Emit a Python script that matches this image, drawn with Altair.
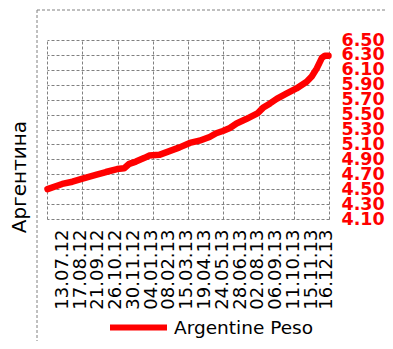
import altair as alt
import pandas as pd

# ---- data ----
dates = ["2012-06-14", "2012-07-13", "2012-08-02", "2012-08-22", "2012-09-17", "2012-10-07",
         "2012-10-29", "2012-11-12", "2012-11-22", "2012-12-05", "2012-12-22", "2012-12-31",
         "2013-01-20", "2013-02-09", "2013-03-01", "2013-03-21", "2013-04-09", "2013-04-29",
         "2013-05-12", "2013-05-25", "2013-06-08", "2013-06-21", "2013-07-10", "2013-08-02",
         "2013-08-12", "2013-08-26", "2013-09-08", "2013-09-27", "2013-10-17", "2013-11-06",
         "2013-11-16", "2013-11-26", "2013-12-06", "2013-12-12", "2013-12-19"]
values = [4.50, 4.57, 4.60, 4.64, 4.69, 4.73, 4.77, 4.78, 4.84, 4.87,
          4.92, 4.95, 4.96, 5.01, 5.06, 5.12, 5.15, 5.20, 5.25, 5.28,
          5.32, 5.38, 5.44, 5.52, 5.59, 5.65, 5.71, 5.78, 5.85, 5.94,
          6.01, 6.12, 6.26, 6.29, 6.29]
series_name = "Argentine Peso"
tick_dates = ["2012-07-13", "2012-08-17", "2012-09-21", "2012-10-26", "2012-11-30",
              "2013-01-04", "2013-02-08", "2013-03-15", "2013-04-19", "2013-05-24",
              "2013-06-28", "2013-08-02", "2013-09-06", "2013-10-11", "2013-11-15",
              "2013-12-16"]
y_ticks = [4.10, 4.30, 4.50, 4.70, 4.90, 5.10, 5.30, 5.50, 5.70, 5.90, 6.10, 6.30, 6.50]
x_domain = ["2012-06-13", "2013-12-20"]
title_text = "Аргентина"

df = pd.DataFrame({"date": dates, "value": values, "series": series_name})


def dt(s):
    t = pd.Timestamp(s)
    return alt.DateTime(year=t.year, month=t.month, date=t.day, utc=True)


# vertical grid: 8 equal divisions of the plot width
d0 = pd.Timestamp(x_domain[0], tz="UTC")
d1 = pd.Timestamp(x_domain[1], tz="UTC")
grid_vals = [int((d0 + (d1 - d0) * k / 8).value // 10**6) for k in range(9)]

RED = "#ff0000"
GRID = "#808080"
FONT = "DejaVu Sans"

xscale = alt.Scale(type="utc", domain=[dt(x_domain[0]), dt(x_domain[1])])
yscale = alt.Scale(domain=[y_ticks[0], y_ticks[-1]], nice=False, zero=False)

bottom_axis = alt.Axis(
    orient="bottom", values=[dt(s) for s in tick_dates],
    labelExpr="utcFormat(datum.value, '%d.%m.%y')",
    labelAngle=270, labelFont=FONT, labelFontSize=18, labelColor="black",
    labelPadding=10, labelOverlap=False, labelFlush=False, labelBound=False,
    ticks=False, domain=False, grid=False, title=None,
)
top_axis = alt.Axis(
    orient="top", values=grid_vals, labels=False, ticks=False, domain=False,
    grid=True, gridColor=GRID, gridDash=[3, 2], gridWidth=1, title=None,
)
y_axis = alt.Axis(
    orient="right", values=y_ticks, labelExpr="format(datum.value, '.2f')",
    labelFont=FONT, labelFontSize=17.5,
    labelFontWeight="bold", labelColor=RED, labelPadding=12, labelOverlap=False,
    labelBound=False, labelFlush=False, ticks=False, domain=False,
    grid=True, gridColor=GRID, gridDash=[3, 2], gridWidth=1, title=None,
)

base = alt.Chart(df)

grid_layer = base.mark_point(opacity=0).encode(
    x=alt.X("date:T", scale=xscale, axis=top_axis),
    y=alt.Y("value:Q", scale=yscale, axis=y_axis),
)

line = base.mark_line(strokeWidth=6.5, strokeCap="round", strokeJoin="round").encode(
    x=alt.X("date:T", scale=xscale, axis=bottom_axis),
    y=alt.Y("value:Q", scale=yscale, axis=y_axis),
    color=alt.Color(
        "series:N",
        scale=alt.Scale(domain=[series_name], range=[RED]),
        legend=alt.Legend(
            orient="none", legendX=60, legendY=256, title=None, padding=0,
            symbolType="stroke", symbolSize=3249, symbolStrokeWidth=6,
            labelFont=FONT, labelFontSize=18.5, labelColor="black", labelOffset=4,
        ),
    ),
)

title_layer = alt.Chart(pd.DataFrame({"label": [title_text]})).mark_text(
    angle=270, font=FONT, fontSize=20, color="black", align="center", baseline="middle"
).encode(text="label:N", x=alt.value(-27), y=alt.value(137))

frame_df = pd.DataFrame({"k": [0]})
frame_top = alt.Chart(frame_df).mark_rule(color=GRID, strokeDash=[3, 2], strokeWidth=1).encode(
    x=alt.value(-10), x2=alt.value(350), y=alt.value(-30)
)
frame_left = alt.Chart(frame_df).mark_rule(color=GRID, strokeDash=[3, 2], strokeWidth=1).encode(
    x=alt.value(-10), y=alt.value(-30), y2=alt.value(320)
)

chart = alt.layer(grid_layer, line, title_layer, frame_top, frame_left).resolve_axis(
    x="independent"
).properties(
    width=282, height=179,
    autosize=alt.AutoSizeParams(type="none"),
    padding={"left": 39, "top": 32, "right": 56, "bottom": 122},
).configure_view(stroke=None)

chart.save("out.html", embed_options={"renderer": "svg", "actions": False})
